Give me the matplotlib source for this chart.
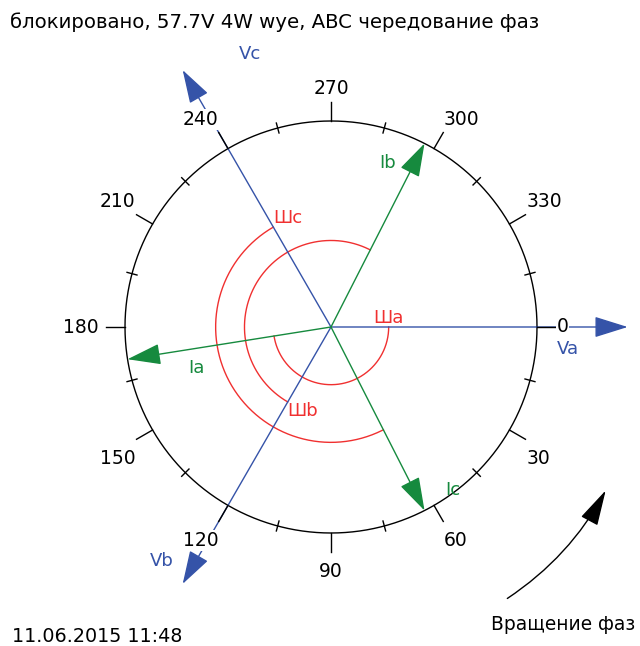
import numpy as np
import matplotlib.pyplot as plt
from matplotlib.patches import FancyArrowPatch

# Phasor data (degrees, clockwise from 0 = east)
voltage_names = ['Va', 'Vb', 'Vc']
voltage_angles = [0, 120, 240]
voltage_mag = [1.44, 1.44, 1.44]

current_names = ['Ia', 'Ib', 'Ic']
phase_shift = [171, 177, -177]          # current relative to its voltage
current_mag = [1.0, 1.0, 1.0]

arc_names = ['Шa', 'Шb', 'Шc']
arc_radius = [0.28, 0.42, 0.56]

dial_labels = [0, 30, 60, 90, 120, 150, 180, 210, 240, 270, 300, 330]

title = 'блокировано, 57.7V 4W wye, ABC чередование фаз'
timestamp = '11.06.2015 11:48'

blue = '#3553a8'
green = '#168a3e'
red = '#f03030'

current_angles = [(v + s) % 360 for v, s in zip(voltage_angles, phase_shift)]

fig = plt.figure(figsize=(6.4, 6.46), dpi=100)
ax = fig.add_axes([22 / 640, 10 / 646, 618 / 640, 618 / 646], projection='polar')
ax.set_theta_zero_location('E')
ax.set_theta_direction(-1)
ax.set_ylim(0, 1.5)
ax.set_axis_off()

# dial circle and ticks
t = np.linspace(0, 2 * np.pi, 721)
ax.plot(t, np.ones_like(t), color='black', lw=1, zorder=3)
for deg in range(0, 360, 15):
    th = np.deg2rad(deg)
    if deg % 30 == 0:
        ax.plot([th, th], [1.0, 1.09], color='black', lw=1, zorder=6)
    else:
        ax.plot([th, th], [0.975, 1.025], color='black', lw=1, zorder=6)

# dial labels sit just outside the major tick ends
box = dict(boxstyle='square,pad=0.05', fc='white', ec='none')
for deg in dial_labels:
    th = np.deg2rad(deg)
    c, s = np.cos(th), np.sin(th)
    ha = 'left' if c > 0.3 else ('right' if c < -0.3 else 'center')
    va = 'top' if s > 0.3 else ('bottom' if s < -0.3 else 'center')
    dy = {'top': -9, 'bottom': 3, 'center': 0}[va]
    r = 1.13 if deg == 180 else 1.095
    ax.annotate(str(deg), xy=(th, r), xytext=(0, dy), textcoords='offset pixels',
                ha=ha, va=va, fontsize=13.5, zorder=7, bbox=box)

# voltage phasors
head = '-|>,head_length=1.5,head_width=0.47'
for ang, mag in zip(voltage_angles, voltage_mag):
    ax.annotate('', xy=(np.deg2rad(ang), mag), xytext=(0, 0), zorder=4,
                arrowprops=dict(arrowstyle=head, color=blue, lw=1,
                                mutation_scale=14, shrinkA=0, shrinkB=0))

v_label_pos = [(1.097, (0, -13), 'left', 'top'),
               (1.44, (-9, 23), 'right', 'center'),
               (1.44, (56, 16), 'left', 'center')]
for name, ang, (r, off, ha, va) in zip(voltage_names, voltage_angles, v_label_pos):
    ax.annotate(name, xy=(np.deg2rad(ang), r), xytext=off,
                textcoords='offset pixels', color=blue, fontsize=13,
                ha=ha, va=va, zorder=5)

# current phasors
for ang, mag in zip(current_angles, current_mag):
    ax.annotate('', xy=(np.deg2rad(ang), mag), xytext=(0, 0), zorder=4,
                arrowprops=dict(arrowstyle=head, color=green, lw=1,
                                mutation_scale=14, shrinkA=0, shrinkB=0))

i_label_pos = [(0.663, (0, -20), 'center', 'center'),
               (0.893, (-19, 0), 'right', 'center'),
               (0.888, (31, 0), 'left', 'center')]
for name, ang, (r, off, ha, va) in zip(current_names, current_angles, i_label_pos):
    ax.annotate(name, xy=(np.deg2rad(ang), r), xytext=off,
                textcoords='offset pixels', color=green, fontsize=13,
                ha=ha, va=va, zorder=5)

# phase angle arcs, from each voltage to its current
arc_align = [('center', 'bottom'), ('left', 'top'), ('left', 'bottom')]
for name, v, s, r, (ha, va) in zip(arc_names, voltage_angles, phase_shift,
                                   arc_radius, arc_align):
    a = np.deg2rad(np.linspace(v, v + s, 200))
    ax.plot(a, np.full_like(a, r), color=red, lw=1, zorder=2)
    ax.text(np.deg2rad(v), r, name, color=red, fontsize=13, ha=ha, va=va,
            zorder=5)

# rotation direction arrow
rot = FancyArrowPatch((505, 46), (607, 158), transform=None,
                      connectionstyle='arc3,rad=0.13',
                      arrowstyle='-|>,head_length=1.6,head_width=0.42',
                      mutation_scale=14, color='black', lw=1)
fig.add_artist(rot)

fig.text(10 / 640, 1 - 22 / 646, title, fontsize=14.2, ha='left', va='center')
fig.text(12 / 640, 1 - 636 / 646, timestamp, fontsize=13.8, ha='left', va='center')
fig.text(563 / 640, 1 - 624 / 646, 'Вращение фаз', fontsize=13.4, ha='center',
         va='center')

fig.savefig('out.png', dpi=100)
